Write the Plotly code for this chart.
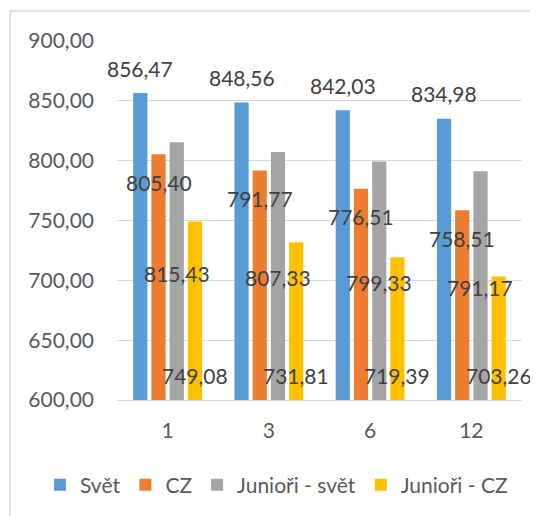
import plotly.graph_objects as go

# %%
kategorie = ["1", "3", "6", "12"]
svet = [856.47, 848.56, 842.03, 834.98]
cz = [805.40, 791.77, 776.51, 758.51]
juniori_svet = [815.43, 807.33, 799.33, 791.17]
juniori_cz = [749.08, 731.81, 719.39, 703.26]

serie = [
    ("Svět", svet, "#5B9BD5"),
    ("CZ", cz, "#ED7D31"),
    ("Junioři - svět", juniori_svet, "#A5A5A5"),
    ("Junioři - CZ", juniori_cz, "#FFC000"),
]

Y_MIN, Y_MAX = 600, 900
FONT = "Lato"
BARGAP = 0.28

# page has an 8px body margin -> figure is 8px smaller, coords shifted by 8
OFF = 8
W, H = 538 - OFF, 516 - OFF
L, T = 117 - OFF, 41 - OFF
R, B = W - (522 - OFF), H - (400 - OFF)
plot_w = W - L - R
plot_h = H - T - B
slot = plot_w / len(kategorie) * (1 - BARGAP) / len(serie)

# %%
fig = go.Figure()
for name, vals, color in serie:
    fig.add_trace(go.Bar(x=kategorie, y=vals, name=name, marker_color=color,
                         hovertemplate=name + ": %{y:.2f}<extra></extra>"))

# data labels (Excel-like placement)
annots = []
for i, (name, vals, color) in enumerate(serie):
    dx = (i - (len(serie) - 1) / 2) * slot
    for j, v in enumerate(vals):
        if i == 0:
            y, dy = v, 25
        elif i == 1:
            y, dy = v, -28
        elif i == 2:
            y, dy = (Y_MIN + v) / 2, -2
        else:
            y, dy = Y_MIN, 24.5
        annots.append(dict(x=j, y=y, xref="x", yref="y", xshift=dx, yshift=dy,
                           text=f"{v:.2f}".replace(".", ","), showarrow=False,
                           xanchor="center", yanchor="middle",
                           font=dict(family=FONT, size=21, color="#404040")))

fig.update_layout(
    width=W, height=H, template="none", separators=",.",
    barmode="group", bargap=BARGAP, bargroupgap=0.22,
    margin=dict(l=L, r=R, t=T, b=B, autoexpand=False),
    paper_bgcolor="white", plot_bgcolor="white",
    font=dict(family=FONT, size=21, color="#595959"),
    annotations=annots,
    showlegend=True,
    legend=dict(orientation="h", x=(40 - OFF - L) / plot_w, xanchor="left",
                y=(400 - 485) / plot_h, yanchor="middle",
                font=dict(family=FONT, size=21, color="#595959"),
                itemwidth=30, tracegroupgap=0),
    shapes=[dict(type="rect", xref="paper", yref="paper",
                 x0=(10 - OFF - L) / plot_w, x1=(W + 10 - L) / plot_w,
                 y0=(400 - 530) / plot_h, y1=(400 - 11) / plot_h,
                 line=dict(color="#D9D9D9", width=1.5), layer="below")],
)
fig.update_yaxes(range=[Y_MIN, Y_MAX], dtick=50, tickformat=".2f",
                 showgrid=True, gridcolor="#D9D9D9", gridwidth=1.3,
                 zeroline=False, ticks="", ticklabelstandoff=22, showline=False)
fig.update_xaxes(type="category", range=[-0.5, len(kategorie) - 0.5],
                 showgrid=False, showline=True, linecolor="#D9D9D9",
                 linewidth=1.3, ticks="", ticklabelstandoff=12)

fig.write_html("out.html")
